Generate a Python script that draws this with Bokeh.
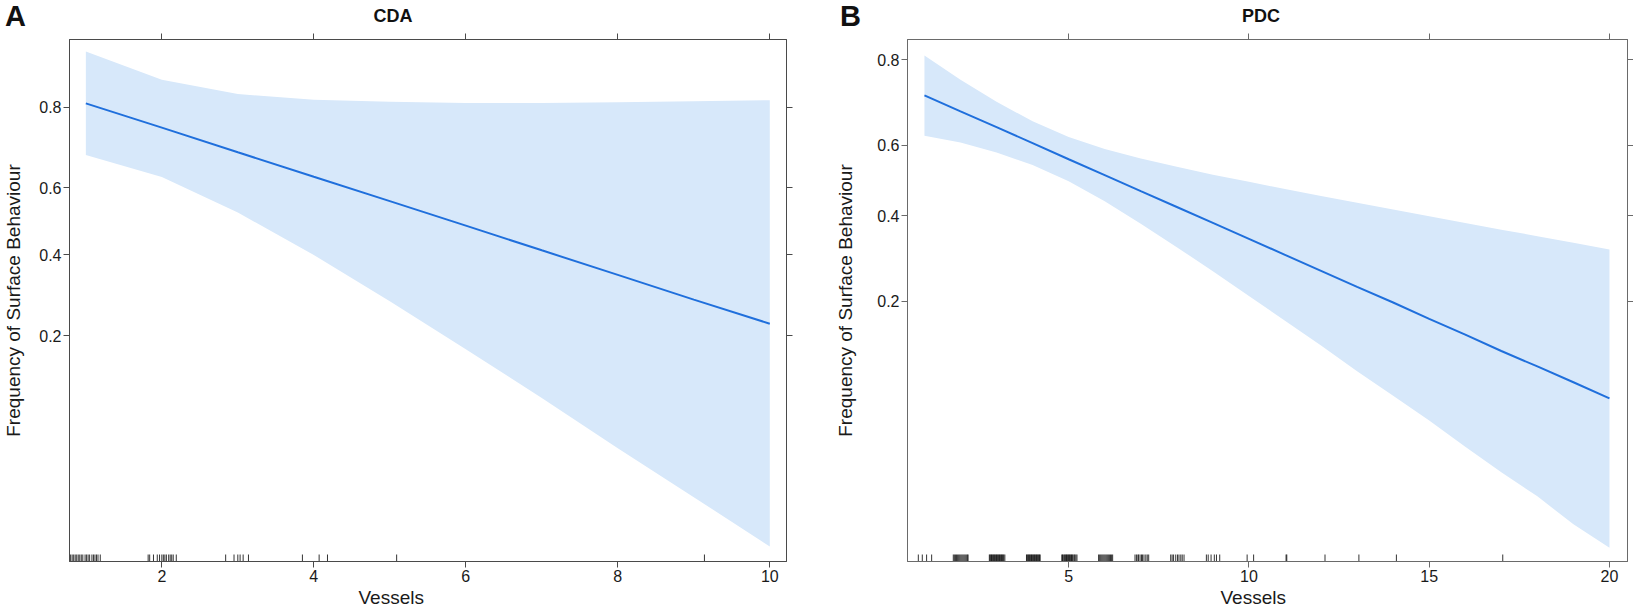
import numpy as np
from bokeh.plotting import figure
from bokeh.layouts import row, column
from bokeh.models import FixedTicker, LinearAxis, Range1d, Title, Div
from bokeh.embed import file_html
from bokeh.resources import INLINE

# ---------------- Panel A: CDA ----------------
cda_x = [1, 2, 3, 4, 5, 6, 7, 8, 9, 10]
cda_fit = [0.807, 0.757, 0.698, 0.632, 0.561, 0.487, 0.413, 0.343, 0.279, 0.224]
cda_lower = [0.691, 0.631, 0.527, 0.399, 0.275, 0.175, 0.105, 0.060, 0.034, 0.019]
cda_upper = [0.887, 0.848, 0.824, 0.814, 0.810, 0.808, 0.808, 0.809, 0.811, 0.813]
cda_rug = [0.80, 0.82, 0.84, 0.86, 0.88, 0.90, 0.92, 0.94, 0.96, 0.99, 1.01, 1.03,
           1.05, 1.08, 1.10, 1.12, 1.14, 1.16, 1.19,
           1.82, 1.84, 1.89, 1.94, 1.97, 2.00, 2.02, 2.04, 2.06, 2.09, 2.11, 2.13,
           2.15, 2.19,
           2.84, 2.95, 3.00, 3.03, 3.07, 3.14,
           3.85, 4.07, 4.18,
           5.09, 9.14]
cda_x_ticks = [2, 4, 6, 8, 10]

# ---------------- Panel B: PDC ----------------
pdc_x = [1, 2, 3, 4, 5, 6, 7, 8, 9, 10, 11, 12, 13, 14, 15, 16, 17, 18, 19, 20]
pdc_fit = [0.727, 0.689, 0.649, 0.606, 0.561, 0.516, 0.470, 0.425, 0.381, 0.339,
           0.299, 0.262, 0.228, 0.198, 0.170, 0.146, 0.124, 0.106, 0.090, 0.076]
pdc_lower = [0.626, 0.608, 0.580, 0.545, 0.498, 0.441, 0.379, 0.318, 0.261, 0.210,
             0.167, 0.131, 0.101, 0.078, 0.060, 0.045, 0.034, 0.026, 0.019, 0.0146]
pdc_upper = [0.808, 0.761, 0.712, 0.664, 0.623, 0.590, 0.563, 0.540, 0.517, 0.497,
             0.476, 0.456, 0.437, 0.418, 0.399, 0.381, 0.363, 0.346, 0.329, 0.312]
pdc_rug = [0.83, 0.94, 1.06, 1.20,
           1.80, 1.83, 1.86, 1.89, 1.92, 1.95, 1.98, 2.01, 2.04, 2.07, 2.10, 2.13,
           2.16, 2.19, 2.21,
           2.80, 2.82, 2.84, 2.86, 2.88, 2.90, 2.92, 2.94, 2.96, 2.98, 3.00, 3.02,
           3.04, 3.06, 3.08, 3.10, 3.12, 3.14, 3.16, 3.18, 3.20, 3.23,
           3.83, 3.85, 3.87, 3.89, 3.91, 3.93, 3.95, 3.97, 3.99, 4.01, 4.03, 4.05,
           4.07, 4.09, 4.11, 4.13, 4.15, 4.17, 4.19, 4.21,
           4.81, 4.83, 4.85, 4.88, 4.90, 4.92, 4.94, 4.96, 4.98, 5.00, 5.02, 5.04,
           5.06, 5.08, 5.10, 5.12, 5.15, 5.17, 5.20, 5.23,
           5.83, 5.86, 5.89, 5.92, 5.95, 5.98, 6.01, 6.04, 6.07, 6.10, 6.13, 6.16,
           6.19, 6.22,
           6.84, 6.88, 6.92, 6.94, 6.98, 7.02, 7.05, 7.09, 7.14, 7.18, 7.22,
           7.83, 7.87, 7.91, 7.97, 8.02, 8.06, 8.11, 8.15, 8.20,
           8.82, 8.87, 8.95, 9.04, 9.10, 9.19,
           9.95, 10.13, 11.03, 11.05, 12.11, 13.05, 14.09, 17.04]
pdc_x_ticks = [5, 10, 15, 20]

y_ticks = [0.2, 0.4, 0.6, 0.8]
y_tick_labels = ["0.2", "0.4", "0.6", "0.8"]

panel_letters = ["A", "B"]
panel_titles = ["CDA", "PDC"]
x_label = "Vessels"
y_label = "Frequency of Surface Behaviour"

BAND = "#d7e8fa"
LINE = "#1f6fdc"
FONT = "Liberation Sans"


def logit(p):
    p = np.asarray(p, dtype=float)
    return np.log(p / (1.0 - p))


def style_axis(ax, color, labels=True):
    ax.axis_line_color = color
    ax.major_tick_line_color = color
    ax.major_tick_out = 6
    ax.major_tick_in = 0
    ax.minor_tick_line_color = None
    ax.major_label_text_font = FONT
    ax.major_label_text_color = "#1a1a1a"
    ax.axis_label_text_font = FONT
    ax.axis_label_text_font_style = "normal"
    ax.axis_label_text_color = "#1a1a1a"
    if labels:
        ax.major_label_text_font_size = "16px"
        ax.major_label_standoff = 2
    else:
        ax.major_label_text_font_size = "0px"
        ax.major_label_standoff = 0


def panel(x, fit, lo, hi, rug, xticks, xr, yr, width, height,
          mbl, mbr, mbt, mbb, xlab_left, ylab_standoff, color):
    p = figure(width=width, height=height, x_range=Range1d(*xr),
               y_range=Range1d(*yr), output_backend="svg", title=None,
               toolbar_location=None, min_border_left=mbl,
               min_border_right=mbr, min_border_top=mbt, min_border_bottom=mbb)
    p.grid.visible = False
    p.outline_line_color = color
    p.background_fill_color = "white"

    p.varea(x=x, y1=logit(lo), y2=logit(hi), fill_color=BAND)
    p.line(x, logit(fit), line_color=LINE, line_width=2)
    p.ray(x=rug, y=yr[0], length=7, length_units="screen", angle=np.pi / 2,
          line_color="black", line_alpha=0.8, line_width=1)

    ylog = [float(v) for v in logit(y_ticks)]

    p.xaxis.ticker = FixedTicker(ticks=xticks)
    p.yaxis.ticker = FixedTicker(ticks=ylog)
    p.yaxis.major_label_overrides = {v: s for v, s in zip(ylog, y_tick_labels)}
    p.yaxis.axis_label = y_label
    p.yaxis.axis_label_text_font_size = "19px"
    p.yaxis.axis_label_standoff = ylab_standoff
    for ax in p.xaxis:
        style_axis(ax, color)
    for ax in p.yaxis:
        style_axis(ax, color)

    top = LinearAxis(ticker=FixedTicker(ticks=xticks))
    style_axis(top, color, labels=False)
    top.major_label_overrides = {t: "" for t in xticks}
    p.add_layout(top, "above")
    right = LinearAxis(ticker=FixedTicker(ticks=ylog))
    style_axis(right, color, labels=False)
    right.major_label_overrides = {v: "" for v in ylog}
    p.add_layout(right, "right")

    # x-axis label placed as a left-aligned title shifted to its spot
    p.add_layout(Title(text=x_label, align="left", offset=xlab_left,
                       standoff=0, text_font=FONT, text_font_size="19px",
                       text_font_style="normal", text_color="#1a1a1a"),
                 "below")
    return p


HEADER_H = 22
FIG_H = 597 - HEADER_H

pA = panel(cda_x, cda_fit, cda_lower, cda_upper, cda_rug,
           cda_x_ticks, (0.785, 10.22), (-4.127, 2.206), 796, FIG_H,
           64, 10, 7, 43, 289, 12, "#4a4a4a")
pB = panel(pdc_x, pdc_fit, pdc_lower, pdc_upper, pdc_rug,
           pdc_x_ticks, (0.53, 20.5), (-4.371, 1.62), 837, FIG_H,
           111, 5, 6, 46, 313, 18, "#6a6a6a")


def span(txt, left, size, center):
    shift = "transform:translateX(-50%);" if center else ""
    return ('<span style="position:absolute;left:%dpx;top:0px;height:%dpx;'
            'line-height:%dpx;font-family:\'Liberation Sans\',sans-serif;'
            'font-weight:bold;font-size:%dpx;color:#111111;white-space:nowrap;%s">%s</span>'
            % (left, HEADER_H, HEADER_H, size, shift, txt))


header_html = ('<div style="position:relative;width:1633px;height:%dpx;">' % HEADER_H
               + span(panel_letters[0], 0, 29, False)
               + span(panel_titles[0], 388, 18, True)
               + span(panel_letters[1], 835, 29, False)
               + span(panel_titles[1], 1256, 18, True)
               + '</div>')
header = Div(text=header_html, width=1633, height=HEADER_H)

layout = column(header, row(pA, pB))
open("out.html", "w").write(file_html(layout, INLINE))
